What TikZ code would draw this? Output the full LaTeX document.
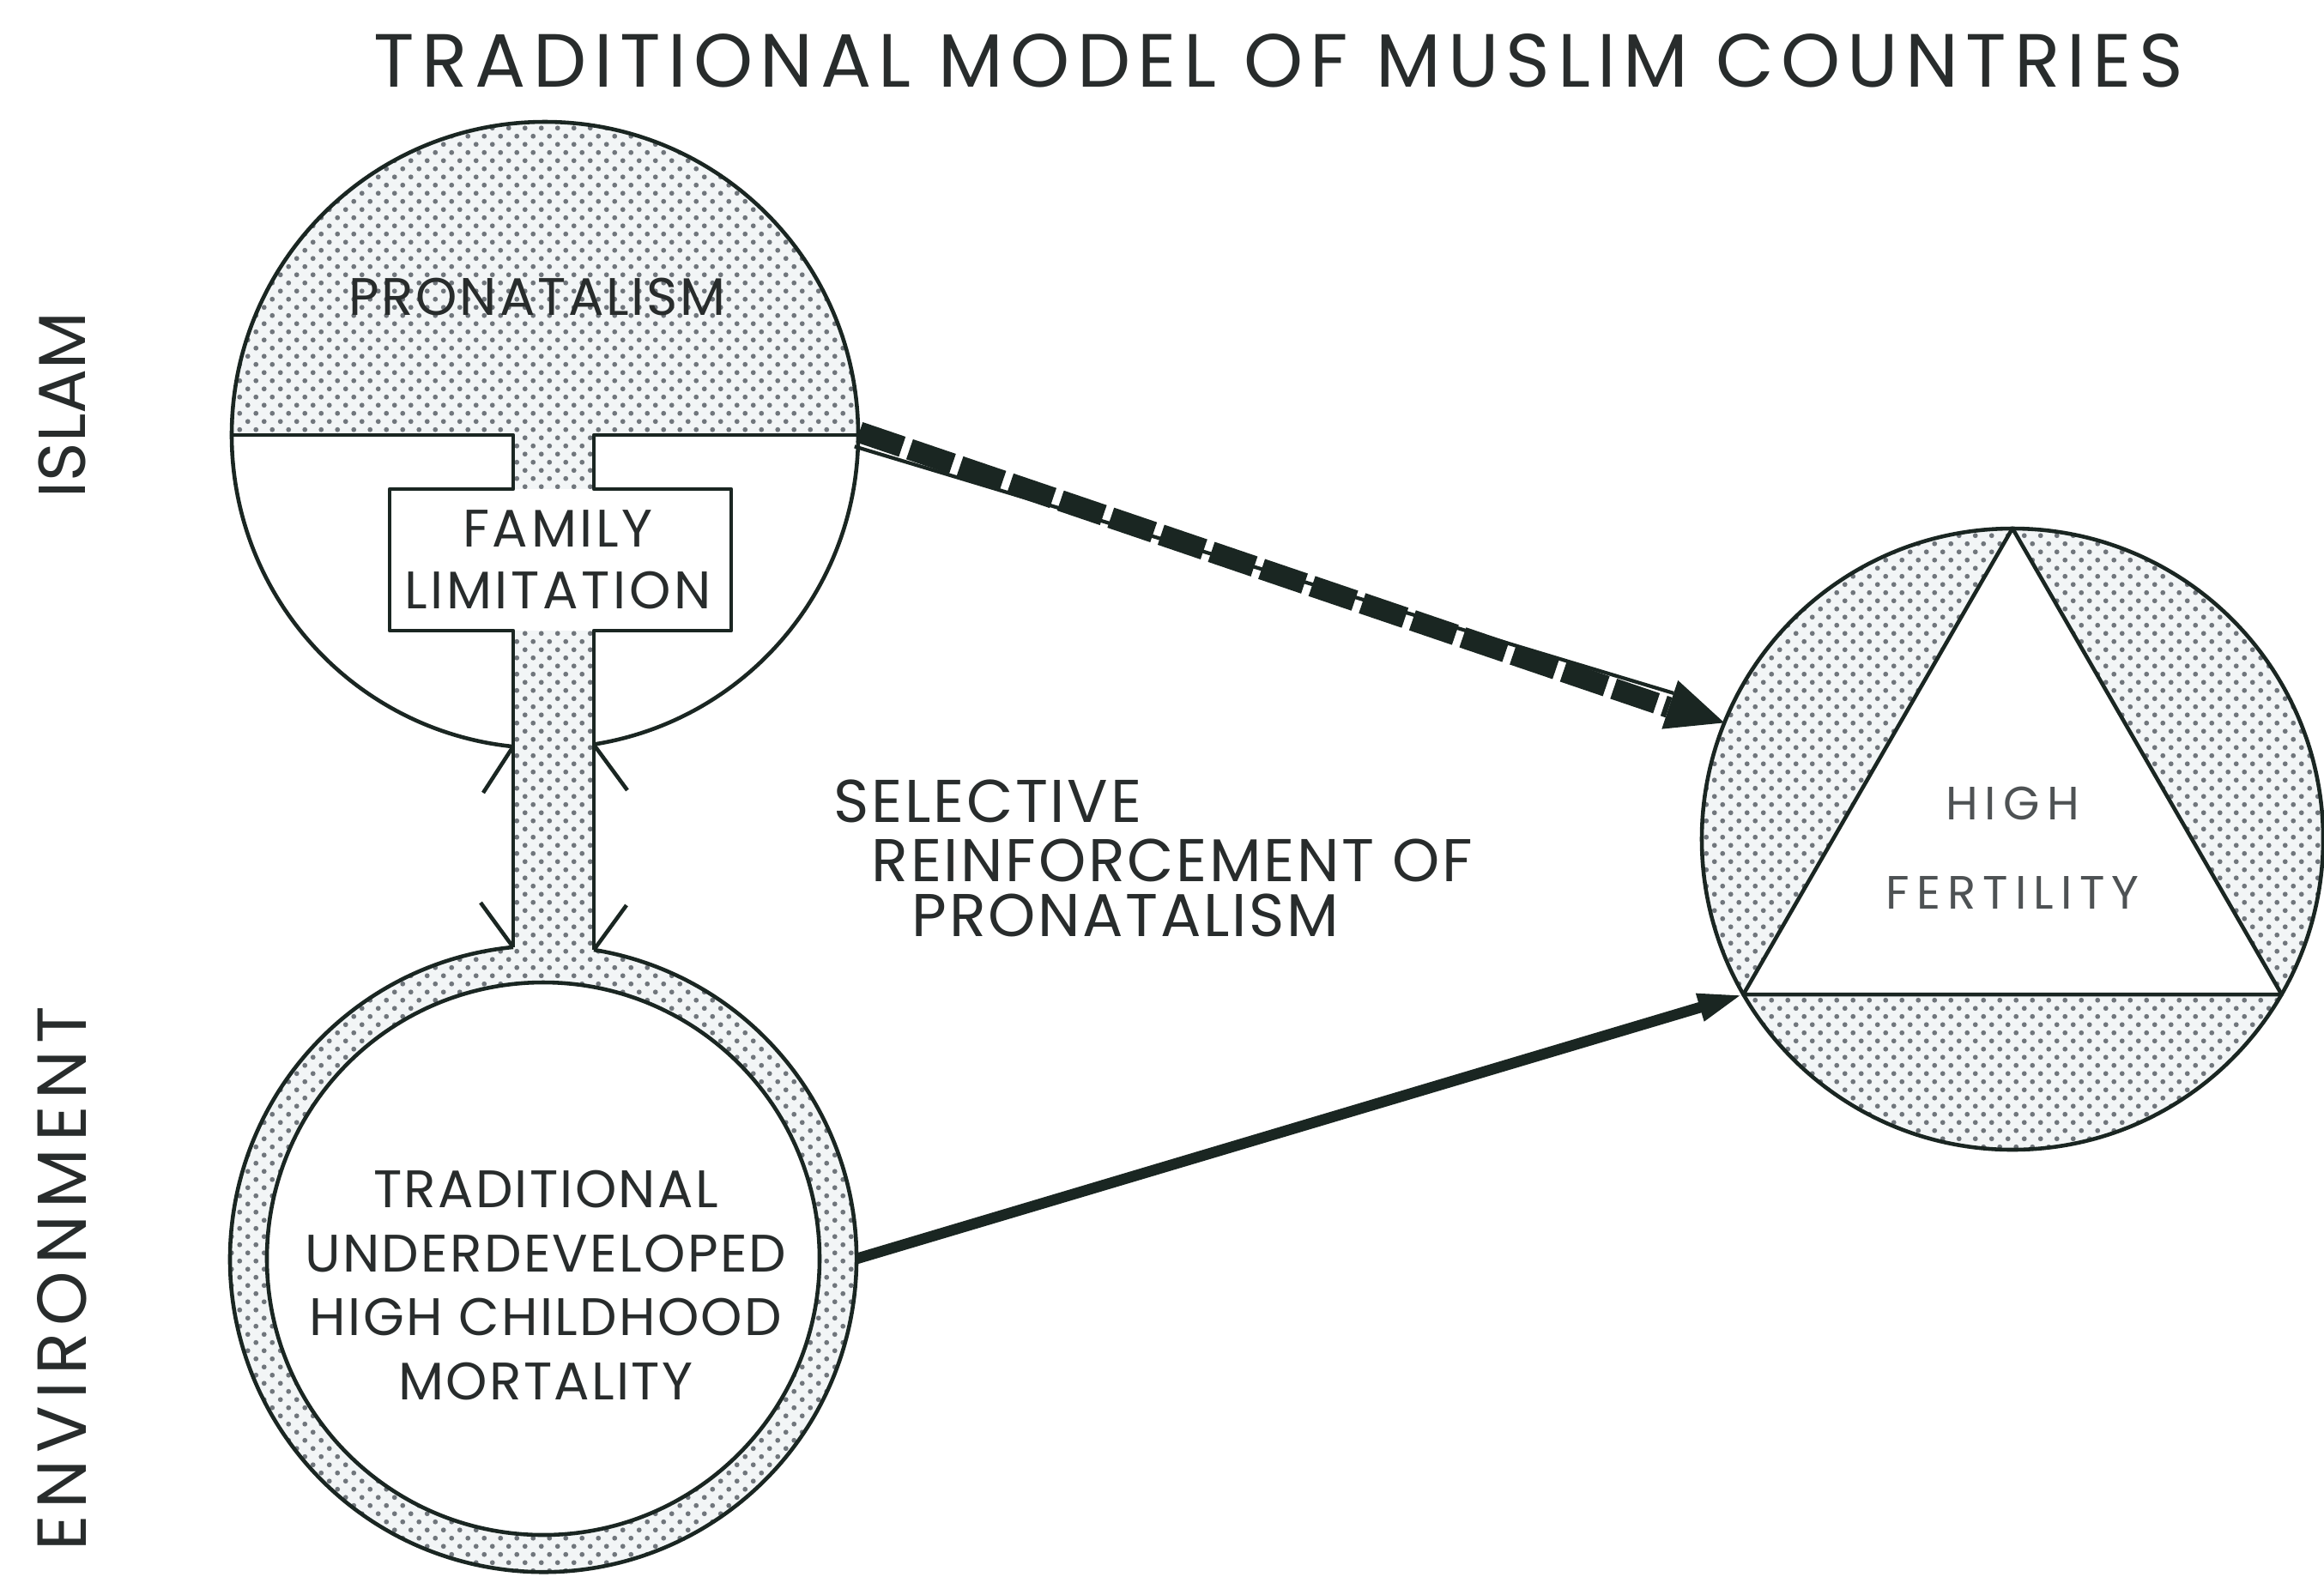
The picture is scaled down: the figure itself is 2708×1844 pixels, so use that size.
\documentclass[tikz,border=0pt]{standalone}
\usepackage{fontspec}
\setmainfont{Poppins}
\usetikzlibrary{arrows.meta,patterns.meta,calc}

\definecolor{ink}{RGB}{26,38,34}
\definecolor{txt}{RGB}{40,44,44}
\definecolor{softtxt}{RGB}{78,82,84}
\definecolor{dotc}{RGB}{112,118,124}
\definecolor{paperdot}{RGB}{242,245,246}

% fine half-tone stipple used for the shaded regions
\tikzdeclarepattern{
  name=stipple,
  type=uncolored,
  bounding box={(0pt,0pt) and (5.4pt,5.4pt)},
  tile size={(5.4pt,5.4pt)},
  code={
    \fill (1.35pt,1.35pt) circle[radius=0.82pt];
    \fill (4.05pt,4.05pt) circle[radius=0.82pt];
  }
}

\begin{document}
\begin{tikzpicture}[x=0.01cm,y=-0.01cm,
  outline/.style={draw=ink,line width=1.3pt,line join=round},
  stip/.style={preaction={fill=paperdot,even odd rule},pattern=stipple,pattern color=dotc,even odd rule},
  anchorcircle/.style={circle,inner sep=0pt,outer sep=0pt,minimum size=#1},
  lbl/.style={text=txt,inner sep=0pt,align=center},
  dashband/.style={draw=ink,line width=7pt,dash pattern=on 15pt off 2.6pt},
  underline/.style={draw=ink,line width=1.2pt},
  solidarrow/.style={draw=ink,line width=3.6pt,-{Triangle[length=15pt,width=8.5pt]}}
]
\useasboundingbox (0,0) rectangle (2708,1844);
\fill[white] (0,0) rectangle (2708,1844);

% reference circles (anchors for the connectors)
\node[anchorcircle=7.3cm]  (islam) at (635,507)  {};
\node[anchorcircle=7.3cm]  (env)   at (633,1467) {};
\node[anchorcircle=7.24cm] (fert)  at (2345,978) {};

% ---- shaded regions ----
\path[stip] (270,507) arc[start angle=180,end angle=360,radius=365] -- cycle;
\path[stip] (598,505) rectangle (692,572);
\path[stip] (598,733) rectangle (692,1112);
\path[stip] (633,1467) circle[radius=365] (633,1467) circle[radius=322];
\path[stip] (fert.center) circle[radius=362];
\fill[white] (fert.90) -- (fert.210) -- (fert.330) -- cycle;
\fill[white] (454,570) rectangle (852,735);

% ---- upper circle: pronatalism over family limitation ----
\draw[outline] (270,507) arc[start angle=180,end angle=360,radius=365];
\draw[outline] (270,507) -- (598,507) -- (598,570) -- (454,570) -- (454,735)
  -- (598,735) -- (598,1104);
\draw[outline] (1000,507) -- (692,507) -- (692,570) -- (852,570) -- (852,735)
  -- (692,735) -- (692,1107);
\draw[outline] (270,507) arc[start angle=180,end angle=95.8,radius=365];
\draw[outline] (1000,507) arc[start angle=0,end angle=81.0,radius=365];

% barbs where the channel meets the two circles
\draw[outline] (598,870) -- (563,924);
\draw[outline] (692,868) -- (731,921);
\draw[outline] (598,1104) -- (560,1052);
\draw[outline] (692,1107) -- (730,1055);

% ---- lower ring ----
\draw[outline] (692,1107) arc[start angle=279.3,end angle=624.5,radius=365];
\draw[outline] (633,1467) circle[radius=322];

% ---- right circle with triangle ----
\draw[outline] (fert.center) circle[radius=362];
\draw[outline] (fert.90) -- (fert.210) -- (fert.330) -- cycle;

% ---- connectors ----
\coordinate (dtip) at (fert.158);
\coordinate (dbase) at ($(dtip)!19pt!(islam.east)$);
\draw[dashband] ($(islam.east)!1pt!90:(dtip)$) -- ($(dbase)!1pt!-90:(dtip)$);
\draw[underline] ($(islam.east)!4pt!-90:(dtip)$) -- ($(dbase)!4pt!90:(dtip)$);
\fill[ink] (dtip) -- ($(dbase)!8.5pt!90:(dtip)$) -- ($(dbase)!8.5pt!-90:(dtip)$) -- cycle;

\draw[solidarrow] (env.east) -- (fert.210);

% ---- texts ----
\node[lbl,font=\fontsize{25}{29}\selectfont\addfontfeature{LetterSpace=9.6}] (title) at (1490,71)
  {TRADITIONAL MODEL OF MUSLIM COUNTRIES};
\node[lbl,rotate=90,font=\fontsize{22}{27}\selectfont] (islamlbl) at (72,472) {ISLAM};
\node[lbl,rotate=90,font=\fontsize{23}{27}\selectfont\addfontfeature{LetterSpace=10}] (envlbl) at (72,1490) {ENVIRONMENT};

\node[lbl,font=\fontsize{17.5}{20.5}\selectfont\addfontfeature{LetterSpace=4.5}] (pron) at (626,346) {PRONATALISM};
\node[lbl,font=\fontsize{17.5}{20.5}\selectfont\addfontfeature{LetterSpace=6}] (famlim) at (650,652) {FAMILY\\LIMITATION};

\node[lbl,anchor=west,font=\fontsize{20}{24}\selectfont\addfontfeature{LetterSpace=3.8}] (sel1) at (971,934) {SELECTIVE};
\node[lbl,anchor=west,font=\fontsize{20}{24}\selectfont\addfontfeature{LetterSpace=3.8}] (sel2) at (1015,1003) {REINFORCEMENT OF};
\node[lbl,anchor=west,font=\fontsize{20}{24}\selectfont\addfontfeature{LetterSpace=3.8}] (sel3) at (1062,1067) {PRONATALISM};

\node[lbl,font=\fontsize{17.5}{21.3}\selectfont\addfontfeature{LetterSpace=3.7}] (envtxt) at (636,1498)
  {TRADITIONAL\\UNDERDEVELOPED\\HIGH CHILDHOOD\\MORTALITY};

\node[lbl,text=softtxt,font=\fontsize{15.5}{29.6}\selectfont\addfontfeature{LetterSpace=15}] (hf) at (2345,988)
  {HIGH\\FERTILITY};
\end{tikzpicture}
\end{document}
